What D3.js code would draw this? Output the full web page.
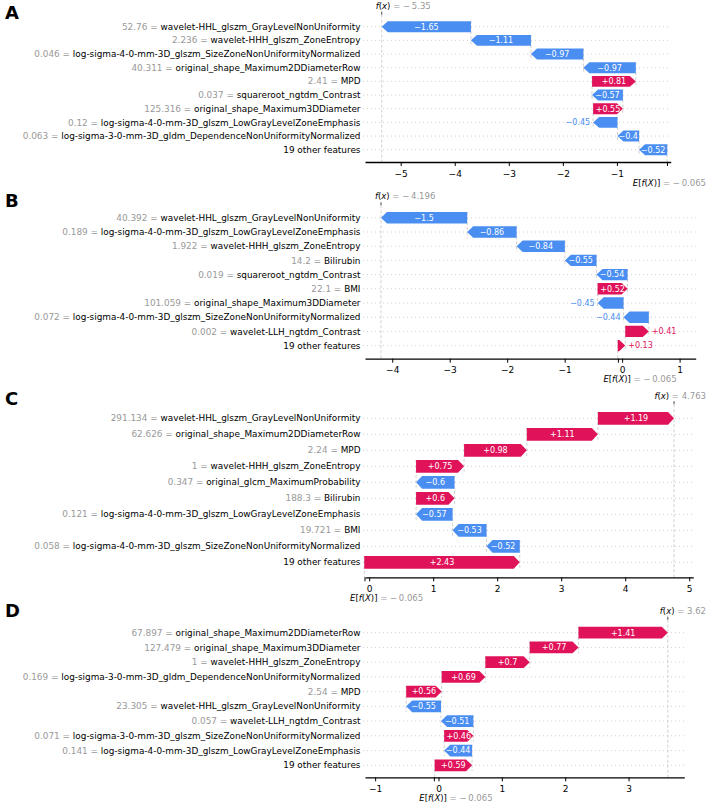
<!DOCTYPE html>
<html><head><meta charset="utf-8">
<script src="https://cdn.jsdelivr.net/npm/d3@7"></script>
<style>
body{margin:0;background:#fff}
svg{display:block}
text{font-family:"DejaVu Sans",sans-serif}
</style>
</head><body>
<svg id="chart" width="708" height="806"></svg>
<script>
// ---------------- data ----------------
const baseValue = -0.065;
const baseLabel = "−0.065";

const namesA = ["wavelet-HHL_glszm_GrayLevelNonUniformity","wavelet-HHH_glszm_ZoneEntropy","log-sigma-4-0-mm-3D_glszm_SizeZoneNonUniformityNormalized","original_shape_Maximum2DDiameterRow","MPD","squareroot_ngtdm_Contrast","original_shape_Maximum3DDiameter","log-sigma-4-0-mm-3D_glszm_LowGrayLevelZoneEmphasis","log-sigma-3-0-mm-3D_gldm_DependenceNonUniformityNormalized","19 other features"];
const featValsA = ["52.76","2.236","0.046","40.311","2.41","0.037","125.316","0.12","0.063",""];
const shapA = [-1.65,-1.11,-0.97,-0.97,0.81,-0.57,0.55,-0.45,-0.4,-0.52];
const fxA = -5.35;
const fxLabelA = "−5.35";
const ticksA = [-5,-4,-3,-2,-1];

const namesB = ["wavelet-HHL_glszm_GrayLevelNonUniformity","log-sigma-4-0-mm-3D_glszm_LowGrayLevelZoneEmphasis","wavelet-HHH_glszm_ZoneEntropy","Bilirubin","squareroot_ngtdm_Contrast","BMI","original_shape_Maximum3DDiameter","log-sigma-4-0-mm-3D_glszm_SizeZoneNonUniformityNormalized","wavelet-LLH_ngtdm_Contrast","19 other features"];
const featValsB = ["40.392","0.189","1.922","14.2","0.019","22.1","101.059","0.072","0.002",""];
const shapB = [-1.5,-0.86,-0.84,-0.55,-0.54,0.52,-0.45,-0.44,0.41,0.13];
const fxB = -4.196;
const fxLabelB = "−4.196";
const ticksB = [-4,-3,-2,-1,0,1];

const namesC = ["wavelet-HHL_glszm_GrayLevelNonUniformity","original_shape_Maximum2DDiameterRow","MPD","wavelet-HHH_glszm_ZoneEntropy","original_glcm_MaximumProbability","Bilirubin","log-sigma-4-0-mm-3D_glszm_LowGrayLevelZoneEmphasis","BMI","log-sigma-4-0-mm-3D_glszm_SizeZoneNonUniformityNormalized","19 other features"];
const featValsC = ["291.134","62.626","2.24","1","0.347","188.3","0.121","19.721","0.058",""];
const shapC = [1.19,1.11,0.98,0.75,-0.6,0.6,-0.57,-0.53,-0.52,2.43];
const fxC = 4.763;
const fxLabelC = "4.763";
const ticksC = [0,1,2,3,4,5];

const namesD = ["original_shape_Maximum2DDiameterRow","original_shape_Maximum3DDiameter","wavelet-HHH_glszm_ZoneEntropy","log-sigma-3-0-mm-3D_gldm_DependenceNonUniformityNormalized","MPD","wavelet-HHL_glszm_GrayLevelNonUniformity","wavelet-LLH_ngtdm_Contrast","log-sigma-3-0-mm-3D_glszm_SizeZoneNonUniformityNormalized","log-sigma-4-0-mm-3D_glszm_LowGrayLevelZoneEmphasis","19 other features"];
const featValsD = ["67.897","127.479","1","0.169","2.54","23.305","0.057","0.071","0.141",""];
const shapD = [1.41,0.77,0.7,0.69,0.56,-0.55,-0.51,0.46,-0.44,0.59];
const fxD = 3.62;
const fxLabelD = "3.62";
const ticksD = [-1,0,1,2,3];

// ---------------- layout ----------------
const panels = [
  {letter:"A", names:namesA, vals:featValsA, shap:shapA, fx:fxA, fxLabel:fxLabelA, ticks:ticksA,
   domain:[-5.66,-0.005], x1:670.7, row0:26.7, step:13.67, axisY:162, fxY:6, letterY:19},
  {letter:"B", names:namesB, vals:featValsB, shap:shapB, fx:fxB, fxLabel:fxLabelB, ticks:ticksB,
   domain:[-4.474,1.28], x1:695.7, row0:217.8, step:14.2, axisY:358.7, fxY:196, letterY:207},
  {letter:"C", names:namesC, vals:featValsC, shap:shapC, fx:fxC, fxLabel:fxLabelC, ticks:ticksC,
   domain:[-0.065,5.064], x1:693.3, row0:418.3, step:16, axisY:577.3, fxY:396, letterY:405},
  {letter:"D", names:namesD, vals:featValsD, shap:shapD, fx:fxD, fxLabel:fxLabelD, ticks:ticksD,
   domain:[-1.16,3.88], x1:684.3, row0:632.7, step:14.73, axisY:777.3, fxY:610.7, letterY:617}
];

const BLUE = "#4a8ef2", RED = "#e0135a", GREY = "#999999", LINE = "#bbbbbb";
const X0 = 365, LABEL_X = 360.5;
const svg = d3.select("#chart");

function fmtVal(v){
  let s = Math.abs(v).toFixed(2).replace(/0+$/,"").replace(/\.$/,"");
  return (v >= 0 ? "+" : "−") + s;
}
function textWidth(str, size){
  const t = svg.append("text").attr("font-size", size).text(str);
  const w = t.node().getComputedTextLength();
  t.remove();
  return w;
}

panels.forEach(p => {
  const g = svg.append("g");
  const n = p.names.length;
  const x = d3.scaleLinear().domain(p.domain).range([X0, p.x1]);
  const y = d3.scaleLinear().domain([0, n-1]).range([p.row0, p.row0 + (n-1)*p.step]);
  const half = 0.4 * p.step;
  const top = p.row0 - 0.88 * p.step;

  // panel letter
  g.append("text").attr("x", 5).attr("y", p.letterY)
    .attr("font-family", "Liberation Sans, Arial, sans-serif")
    .attr("font-weight", "bold").attr("font-size", 18).text(p.letter);

  // row dotted lines
  g.selectAll(".row").data(d3.range(n)).join("line")
    .attr("x1", X0 - 2).attr("x2", p.x1)
    .attr("y1", i => y(i)).attr("y2", i => y(i))
    .attr("stroke", "#c4c4c4").attr("stroke-width", 0.8).attr("stroke-dasharray", "1,3");

  // f(x) line
  g.append("line").attr("x1", x(p.fx)).attr("x2", x(p.fx)).attr("y1", top).attr("y2", p.axisY)
    .attr("stroke", LINE).attr("stroke-width", 0.7).attr("stroke-dasharray", "3,2");
  g.append("line").attr("x1", x(p.fx)).attr("x2", x(p.fx)).attr("y1", top - 3).attr("y2", top)
    .attr("stroke", "#444").attr("stroke-width", 1);

  // compute bars top-down from f(x)
  let loc = p.fx;
  const bars = p.shap.map((v, i) => {
    const tip = loc, tail = loc - v;
    loc = tail;
    return {i, v, tip, tail};
  });

  // connectors
  bars.forEach(b => {
    const y1 = y(b.i) - half;
    const y2 = Math.min(y(b.i) + p.step + half, p.axisY);
    g.append("line").attr("x1", x(b.tail)).attr("x2", x(b.tail)).attr("y1", y1).attr("y2", y2)
      .attr("stroke", LINE).attr("stroke-width", 0.7).attr("stroke-dasharray", "3,2");
  });

  // arrows
  bars.forEach(b => {
    const px0 = x(b.tail), px1 = x(b.tip);
    const dir = px1 >= px0 ? 1 : -1;
    const len = Math.abs(px1 - px0);
    const hl = Math.min(6, len);
    const yc = y(b.i);
    const pts = [[px0, yc-half],[px1 - dir*hl, yc-half],[px1, yc],[px1 - dir*hl, yc+half],[px0, yc+half]];
    const col = b.v >= 0 ? RED : BLUE;
    g.append("path").attr("d", d3.line()(pts) + "Z").attr("fill", col);
    const lbl = fmtVal(b.v);
    const tw = textWidth(lbl, 8);
    if (len > tw * 1.08) {
      g.append("text").attr("x", (px0 + px1)/2).attr("y", yc).attr("dy", "0.35em")
        .attr("text-anchor", "middle").attr("font-size", 8).attr("fill", "#fff").text(lbl);
    } else {
      g.append("text").attr("x", px1 + dir*3).attr("y", yc).attr("dy", "0.35em")
        .attr("text-anchor", dir > 0 ? "start" : "end").attr("font-size", 8).attr("fill", col).text(lbl);
    }
  });

  // feature labels
  p.names.forEach((name, i) => {
    const t = g.append("text").attr("x", LABEL_X).attr("y", y(i)).attr("dy", "0.35em")
      .attr("text-anchor", "end").attr("font-size", 8.9);
    if (p.vals[i] !== "") {
      t.append("tspan").attr("fill", GREY).text(p.vals[i] + " = ");
    }
    t.append("tspan").attr("fill", "#000").text(name);
  });

  // x axis
  const axis = d3.axisBottom(x).tickValues(p.ticks).tickSize(4).tickSizeOuter(0)
    .tickFormat(d => d < 0 ? "−" + Math.abs(d) : String(d));
  const ag = g.append("g").attr("transform", `translate(0,${p.axisY})`).call(axis);
  ag.select(".domain").attr("stroke", "#000").attr("stroke-width", 1.3);
  ag.selectAll(".tick line").attr("stroke", "#000");
  ag.selectAll(".tick text").attr("font-size", 9).attr("font-family", "DejaVu Sans").attr("fill", "#000").attr("dy", "0.85em");
  g.append("line").attr("x1", x(baseValue)).attr("x2", x(baseValue)).attr("y1", p.axisY).attr("y2", p.axisY + 4)
    .attr("stroke", "#000");

  // E[f(X)] label
  const eText = g.append("text").attr("y", p.axisY + 23.5).attr("font-size", 8.5);
  eText.append("tspan").attr("font-style", "italic").text("E");
  eText.append("tspan").text("[");
  eText.append("tspan").attr("font-style", "italic").text("f");
  eText.append("tspan").text("(");
  eText.append("tspan").attr("font-style", "italic").text("X");
  eText.append("tspan").text(")]");
  eText.append("tspan").attr("fill", GREY).text(" = −\u2009" + baseLabel.replace("−", ""));
  const ew = eText.node().getComputedTextLength();
  eText.attr("x", Math.min(x(baseValue) - 15, 706 - ew));

  // f(x) label
  const fText = g.append("text").attr("y", p.fxY + 3).attr("font-size", 8.5);
  fText.append("tspan").attr("font-style", "italic").text("f");
  fText.append("tspan").text("(");
  fText.append("tspan").attr("font-style", "italic").text("x");
  fText.append("tspan").text(")");
  const neg = p.fxLabel.startsWith("−");
  fText.append("tspan").attr("fill", GREY).text(neg ? " = −\u2009" + p.fxLabel.slice(1) : " = " + p.fxLabel);
  const fw = fText.node().getComputedTextLength();
  fText.attr("x", Math.min(x(p.fx) - 6, 706 - fw));
});
</script>
</body></html>
